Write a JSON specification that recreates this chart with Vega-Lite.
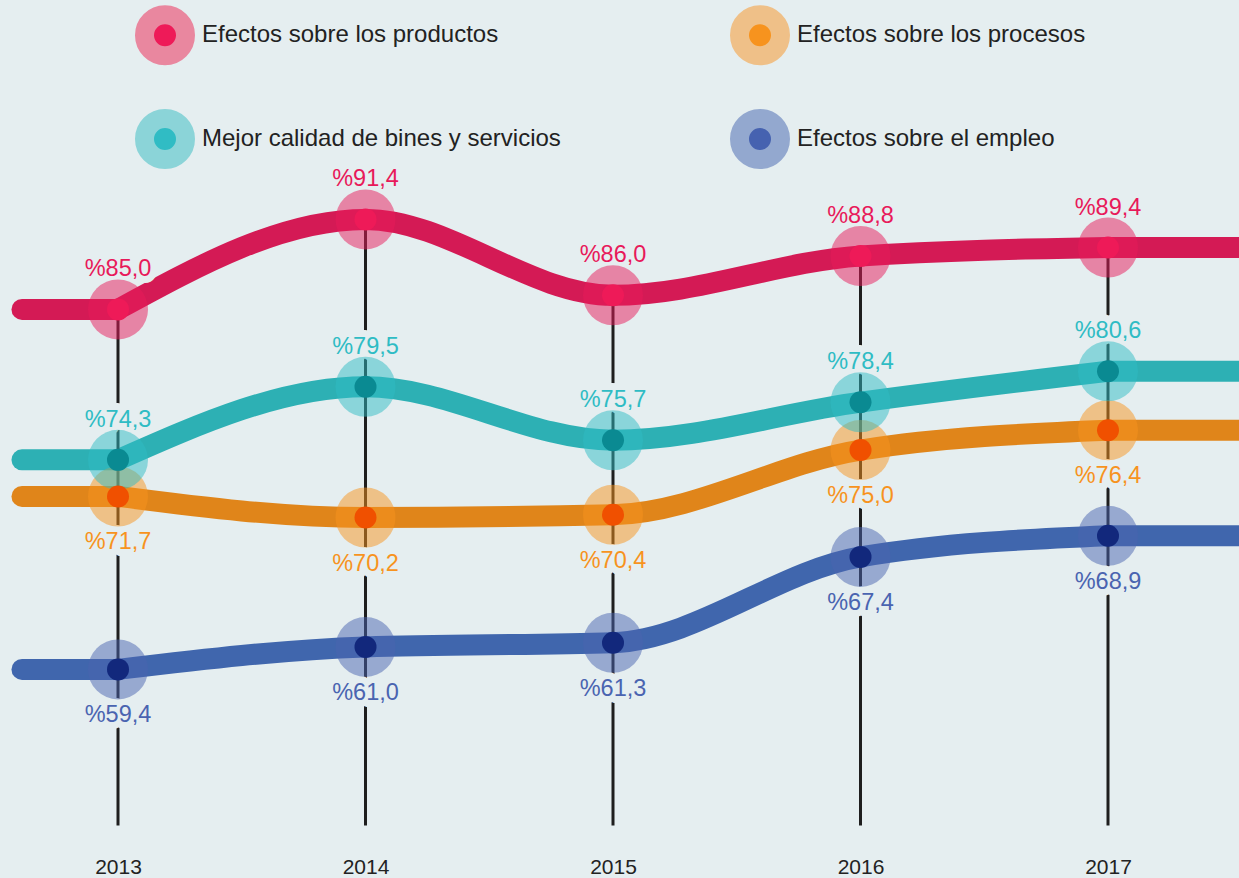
{
  "$schema": "https://vega.github.io/schema/vega-lite/v6.json",
  "width": 1239,
  "height": 848,
  "autosize": {"type": "none"},
  "padding": {"left": 0, "top": 0, "right": 0, "bottom": 30},
  "background": "#e5eef0",
  "data": {
    "values": [
      {"year": 2013, "series": "Efectos sobre los productos", "value": 85.0},
      {"year": 2014, "series": "Efectos sobre los productos", "value": 91.4},
      {"year": 2015, "series": "Efectos sobre los productos", "value": 86.0},
      {"year": 2016, "series": "Efectos sobre los productos", "value": 88.8},
      {"year": 2017, "series": "Efectos sobre los productos", "value": 89.4},
      {"year": 2013, "series": "Efectos sobre los procesos", "value": 71.7},
      {"year": 2014, "series": "Efectos sobre los procesos", "value": 70.2},
      {"year": 2015, "series": "Efectos sobre los procesos", "value": 70.4},
      {"year": 2016, "series": "Efectos sobre los procesos", "value": 75.0},
      {"year": 2017, "series": "Efectos sobre los procesos", "value": 76.4},
      {"year": 2013, "series": "Mejor calidad de bines y servicios", "value": 74.3},
      {"year": 2014, "series": "Mejor calidad de bines y servicios", "value": 79.5},
      {"year": 2015, "series": "Mejor calidad de bines y servicios", "value": 75.7},
      {"year": 2016, "series": "Mejor calidad de bines y servicios", "value": 78.4},
      {"year": 2017, "series": "Mejor calidad de bines y servicios", "value": 80.6},
      {"year": 2013, "series": "Efectos sobre el empleo", "value": 59.4},
      {"year": 2014, "series": "Efectos sobre el empleo", "value": 61.0},
      {"year": 2015, "series": "Efectos sobre el empleo", "value": 61.3},
      {"year": 2016, "series": "Efectos sobre el empleo", "value": 67.4},
      {"year": 2017, "series": "Efectos sobre el empleo", "value": 68.9}
    ]
  },
  "transform": [
    {"calculate": "'%' + replace(format(datum.value, '.1f'), '.', ',')", "as": "label"}
  ],
  "encoding": {
    "x": {
      "field": "year", "type": "quantitative",
      "scale": {"domain": [2012.5232, 2017.5293], "nice": false, "zero": false},
      "axis": {"values": [2013, 2014, 2015, 2016, 2017], "format": "d", "title": null, "labelFontSize": 21, "labelColor": "#222222", "labelFont": "Liberation Sans", "labelPadding": 8, "domain": false, "ticks": false, "grid": false, "labelFlush": false}
    },
    "y": {
      "field": "value", "type": "quantitative",
      "scale": {"domain": [46.7, 107], "nice": false, "zero": false},
      "axis": null
    }
  },
  "layer": [
    {
      "mark": {"type": "line", "interpolate": "monotone", "strokeWidth": 21, "strokeCap": "round"},
      "encoding": {
        "stroke": {"field": "series", "type": "nominal", "legend": null,
          "scale": {"domain": ["Efectos sobre los productos", "Efectos sobre los procesos", "Mejor calidad de bines y servicios", "Efectos sobre el empleo"], "range": ["#d41a55", "#e0851a", "#2db0b4", "#4066ad"]}}
      }
    },
    {
      "transform": [{"filter": "datum.year == 2013"}],
      "mark": {"type": "rule", "strokeWidth": 21, "strokeCap": "round"},
      "encoding": {
        "x": {"datum": 2012.612, "type": "quantitative"},
        "x2": {"field": "year"},
        "stroke": {"field": "series", "type": "nominal", "legend": null,
          "scale": {"domain": ["Efectos sobre los productos", "Efectos sobre los procesos", "Mejor calidad de bines y servicios", "Efectos sobre el empleo"], "range": ["#d41a55", "#e0851a", "#2db0b4", "#4066ad"]}}
      }
    },
    {
      "transform": [{"filter": "datum.year == 2017"}],
      "mark": {"type": "rule", "strokeWidth": 21, "strokeCap": "round"},
      "encoding": {
        "x2": {"datum": 2017.8},
        "stroke": {"field": "series", "type": "nominal", "legend": null,
          "scale": {"domain": ["Efectos sobre los productos", "Efectos sobre los procesos", "Mejor calidad de bines y servicios", "Efectos sobre el empleo"], "range": ["#d41a55", "#e0851a", "#2db0b4", "#4066ad"]}}
      }
    },
    {
      "transform": [{"aggregate": [{"op": "max", "field": "value", "as": "top"}], "groupby": ["year"]}],
      "mark": {"type": "rule", "color": "#1e1e1e", "strokeWidth": 3},
      "encoding": {
        "y": {"field": "top", "type": "quantitative", "scale": {"domain": [46.7, 107], "nice": false, "zero": false}, "axis": null},
        "y2": {"datum": 48.3}
      }
    },
    {
      "transform": [{"filter": "datum.series == 'Efectos sobre los productos' || datum.series == 'Mejor calidad de bines y servicios'"}],
      "mark": {"type": "text", "dy": -40, "fontSize": 23.5, "font": "Liberation Sans", "baseline": "middle", "align": "center", "fill": "#e5eef0", "stroke": "#e5eef0", "strokeWidth": 14, "strokeJoin": "round"},
      "encoding": {"text": {"field": "label"}}
    },
    {
      "transform": [{"filter": "datum.series == 'Efectos sobre los procesos' || datum.series == 'Efectos sobre el empleo'"}],
      "mark": {"type": "text", "dy": 46, "fontSize": 23.5, "font": "Liberation Sans", "baseline": "middle", "align": "center", "fill": "#e5eef0", "stroke": "#e5eef0", "strokeWidth": 14, "strokeJoin": "round"},
      "encoding": {"text": {"field": "label"}}
    },
    {
      "mark": {"type": "point", "filled": true, "shape": "circle", "size": 3600, "opacity": 0.5, "strokeWidth": 0},
      "encoding": {
        "fill": {"field": "series", "type": "nominal", "legend": null,
          "scale": {"domain": ["Efectos sobre los productos", "Efectos sobre los procesos", "Mejor calidad de bines y servicios", "Efectos sobre el empleo"], "range": ["#e8195a", "#f7931e", "#2fbcc4", "#4a64b0"]}}
      }
    },
    {
      "mark": {"type": "point", "filled": true, "shape": "circle", "size": 484, "opacity": 1, "strokeWidth": 0},
      "encoding": {
        "fill": {"field": "series", "type": "nominal", "legend": null,
          "scale": {"domain": ["Efectos sobre los productos", "Efectos sobre los procesos", "Mejor calidad de bines y servicios", "Efectos sobre el empleo"], "range": ["#ee1a58", "#f05000", "#0a8a92", "#12287c"]}}
      }
    },
    {
      "mark": {"type": "point", "filled": true, "shape": "circle", "size": 1681, "opacity": 0, "strokeWidth": 19},
      "encoding": {
        "fill": {"field": "series", "type": "nominal",
          "scale": {"domain": ["Efectos sobre los productos", "Efectos sobre los procesos", "Mejor calidad de bines y servicios", "Efectos sobre el empleo"], "range": ["#ee1a58", "#f7931e", "#30bcc4", "#4662b0"]},
          "legend": {"orient": "none", "direction": "horizontal", "legendX": 135, "legendY": 5, "columns": 2, "title": null, "columnPadding": 140, "rowPadding": -14, "labelFontSize": 24, "labelFont": "Liberation Sans", "labelColor": "#222222", "labelOffset": 7, "symbolSize": 1681, "symbolStrokeWidth": 19, "symbolType": "circle", "symbolOpacity": 1, "labelLimit": 0, "padding": 0}},
        "stroke": {"field": "series", "type": "nominal",
          "scale": {"domain": ["Efectos sobre los productos", "Efectos sobre los procesos", "Mejor calidad de bines y servicios", "Efectos sobre el empleo"], "range": ["#e9879f", "#efc088", "#8bd4d8", "#93a8cf"]},
          "legend": {"orient": "none", "direction": "horizontal", "legendX": 135, "legendY": 5, "columns": 2, "title": null, "columnPadding": 140, "rowPadding": -14, "labelFontSize": 24, "labelFont": "Liberation Sans", "labelColor": "#222222", "labelOffset": 7, "symbolSize": 1681, "symbolStrokeWidth": 19, "symbolType": "circle", "symbolOpacity": 1, "labelLimit": 0, "padding": 0}}
      }
    },
    {
      "transform": [{"filter": "datum.series == 'Efectos sobre los productos' || datum.series == 'Mejor calidad de bines y servicios'"}],
      "mark": {"type": "text", "dy": -40, "fontSize": 23.5, "font": "Liberation Sans", "baseline": "middle", "align": "center"},
      "encoding": {
        "text": {"field": "label"},
        "color": {"field": "series", "type": "nominal", "legend": null,
          "scale": {"domain": ["Efectos sobre los productos", "Efectos sobre los procesos", "Mejor calidad de bines y servicios", "Efectos sobre el empleo"], "range": ["#e8195a", "#f7931e", "#2fbcc4", "#4a64b0"]}}
      }
    },
    {
      "transform": [{"filter": "datum.series == 'Efectos sobre los procesos' || datum.series == 'Efectos sobre el empleo'"}],
      "mark": {"type": "text", "dy": 46, "fontSize": 23.5, "font": "Liberation Sans", "baseline": "middle", "align": "center"},
      "encoding": {
        "text": {"field": "label"},
        "color": {"field": "series", "type": "nominal", "legend": null,
          "scale": {"domain": ["Efectos sobre los productos", "Efectos sobre los procesos", "Mejor calidad de bines y servicios", "Efectos sobre el empleo"], "range": ["#e8195a", "#f7931e", "#2fbcc4", "#4a64b0"]}}
      }
    }
  ],
  "resolve": {"scale": {"fill": "independent", "stroke": "independent", "color": "independent"}},
  "config": {
    "view": {"stroke": null},
    "font": "Liberation Sans"
  }
}
